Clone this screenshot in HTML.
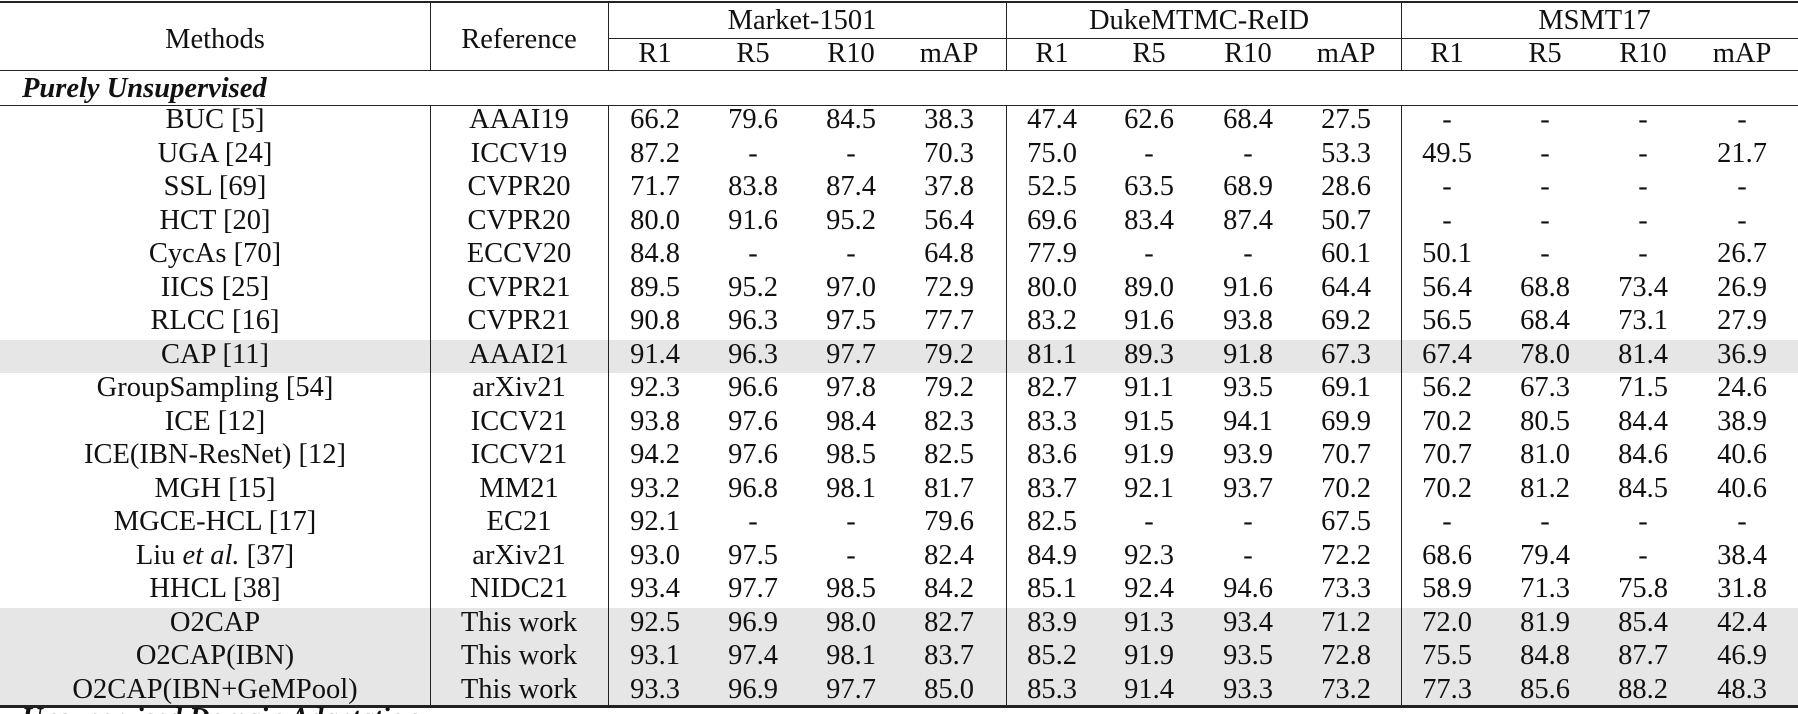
<!DOCTYPE html>
<html><head><meta charset="utf-8">
<style>
html,body{margin:0;padding:0;background:#fff}
#t{position:relative;width:1798px;height:714px;overflow:hidden;font-family:"Liberation Serif",serif;font-size:28.5px;color:#111}
.c{position:absolute;white-space:nowrap;transform:translate(-50%,-50%);line-height:1}
.h{position:absolute;background:#222}
.band{position:absolute;left:0;width:1798px;background:#e6e6e6}
</style></head><body>
<div id="t"></div>
<script>
const methods=["BUC [5]","UGA [24]","SSL [69]","HCT [20]","CycAs [70]","IICS [25]","RLCC [16]","CAP [11]","GroupSampling [54]","ICE [12]","ICE(IBN-ResNet) [12]","MGH [15]","MGCE-HCL [17]","Liu <i>et al.</i> [37]","HHCL [38]","O2CAP","O2CAP(IBN)","O2CAP(IBN+GeMPool)"];
const refs=["AAAI19","ICCV19","CVPR20","CVPR20","ECCV20","CVPR21","CVPR21","AAAI21","arXiv21","ICCV21","ICCV21","MM21","EC21","arXiv21","NIDC21","This work","This work","This work"];
const vals=[
["66.2","79.6","84.5","38.3","47.4","62.6","68.4","27.5","-","-","-","-"],
["87.2","-","-","70.3","75.0","-","-","53.3","49.5","-","-","21.7"],
["71.7","83.8","87.4","37.8","52.5","63.5","68.9","28.6","-","-","-","-"],
["80.0","91.6","95.2","56.4","69.6","83.4","87.4","50.7","-","-","-","-"],
["84.8","-","-","64.8","77.9","-","-","60.1","50.1","-","-","26.7"],
["89.5","95.2","97.0","72.9","80.0","89.0","91.6","64.4","56.4","68.8","73.4","26.9"],
["90.8","96.3","97.5","77.7","83.2","91.6","93.8","69.2","56.5","68.4","73.1","27.9"],
["91.4","96.3","97.7","79.2","81.1","89.3","91.8","67.3","67.4","78.0","81.4","36.9"],
["92.3","96.6","97.8","79.2","82.7","91.1","93.5","69.1","56.2","67.3","71.5","24.6"],
["93.8","97.6","98.4","82.3","83.3","91.5","94.1","69.9","70.2","80.5","84.4","38.9"],
["94.2","97.6","98.5","82.5","83.6","91.9","93.9","70.7","70.7","81.0","84.6","40.6"],
["93.2","96.8","98.1","81.7","83.7","92.1","93.7","70.2","70.2","81.2","84.5","40.6"],
["92.1","-","-","79.6","82.5","-","-","67.5","-","-","-","-"],
["93.0","97.5","-","82.4","84.9","92.3","-","72.2","68.6","79.4","-","38.4"],
["93.4","97.7","98.5","84.2","85.1","92.4","94.6","73.3","58.9","71.3","75.8","31.8"],
["92.5","96.9","98.0","82.7","83.9","91.3","93.4","71.2","72.0","81.9","85.4","42.4"],
["93.1","97.4","98.1","83.7","85.2","91.9","93.5","72.8","75.5","84.8","87.7","46.9"],
["93.3","96.9","97.7","85.0","85.3","91.4","93.3","73.2","77.3","85.6","88.2","48.3"]];
const shaded=[7,15,16,17];
const datasets=["Market-1501","DukeMTMC-ReID","MSMT17"];
const metrics=["R1","R5","R10","mAP"];
const T=document.getElementById('t');
const colX=[655,753,851,949,1052,1149,1248,1346,1447,1545,1643,1742];
const row0=120,pitch=33.5;
function el(cls,css,html){const d=document.createElement('div');d.className=cls;d.style.cssText=css;if(html!==undefined)d.innerHTML=html;T.appendChild(d);return d;}
shaded.forEach(i=>{const b=el('band',`top:${row0+i*pitch-15}px;height:${pitch}px`);

});
function hl(y,x1,x2,h,n){const d=el('h',`top:${y}px;left:${x1}px;width:${x2-x1}px;height:${h}px`);

}
function vl(x,y1,y2){const d=el('h',`left:${x}px;top:${y1}px;height:${y2-y1}px;width:1px`);

}
hl(1,0,1798,2,'top-rule');hl(38,608,1798,1,'group-rule');hl(70,0,1798,1,'header-rule');hl(105,0,1798,1,'section-rule');hl(705,0,1798,3,'bottom-rule');
[430,608,1006,1401].forEach(x=>{vl(x,2,70);vl(x,105,705);});
let d=el('c','left:215px;top:40px','Methods');


d=el('c','left:519px;top:40px','Reference');


datasets.forEach((s,i)=>{const x=(colX[i*4]+colX[i*4+3])/2;const e=el('c',`left:${x}px;top:21px`,s);

});
colX.forEach((x,i)=>{const e=el('c',`left:${x}px;top:54px`,metrics[i%4]);

});
d=el('c','top:89px;transform:translateY(-50%);left:22px;font-weight:bold;font-style:italic','Purely Unsupervised');


methods.forEach((m,i)=>{const y=row0+i*pitch;
let e=el('c',`left:215px;top:${y}px`,m);


e=el('c',`left:519px;top:${y}px`,refs[i]);


vals[i].forEach((v,j)=>{const c=el('c',`left:${colX[j]}px;top:${y}px`,v);

});});
d=el('c','left:22px;top:719px;transform:translateY(-50%);font-weight:bold;font-style:italic','Unsupervised Domain Adaptation');


</script>
</body></html>
